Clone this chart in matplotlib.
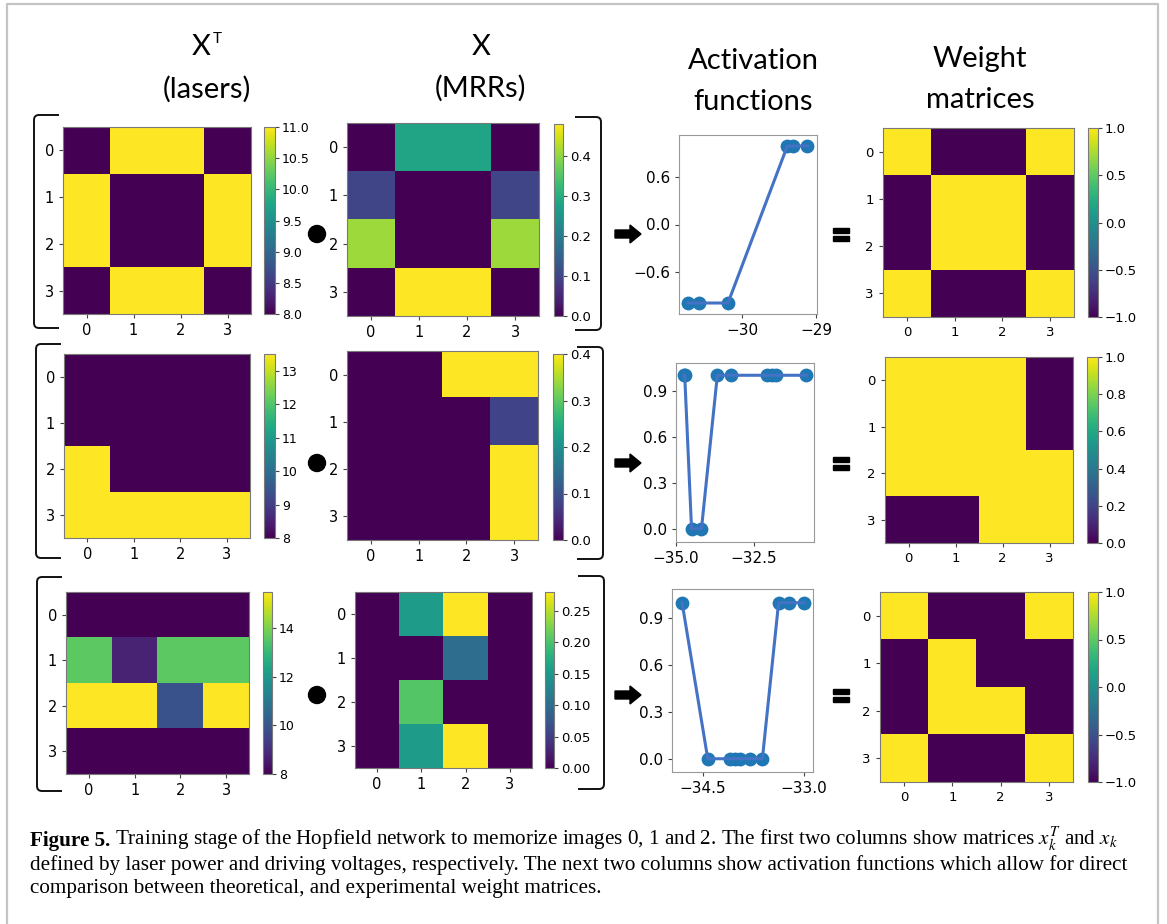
import matplotlib.pyplot as plt
from matplotlib.patches import Circle, Polygon, Rectangle, PathPatch
from matplotlib.path import Path

W, H = 1167, 924

# laser power matrices x_k^T
lasers_0 = [[8, 11, 11, 8], [11, 8, 8, 11], [11, 8, 8, 11], [8, 11, 11, 8]]
lasers_1 = [[8, 8, 8, 8], [8, 8, 8, 8], [13.5, 8, 8, 8], [13.5, 13.5, 13.5, 13.5]]
lasers_2 = [[8, 8, 8, 8], [13.6, 8.75, 13.6, 13.6], [15.5, 15.5, 9.9, 15.5], [8, 8, 8, 8]]

# MRR driving voltages x_k
mrr_0 = [[0, 0.28, 0.28, 0], [0.1, 0, 0, 0.1], [0.41, 0, 0, 0.41], [0, 0.48, 0.48, 0]]
mrr_1 = [[0, 0, 0.4, 0.4], [0, 0, 0, 0.08], [0, 0, 0, 0.4], [0, 0, 0, 0.4]]
mrr_2 = [[0, 0.155, 0.28, 0], [0, 0, 0.1, 0], [0, 0.205, 0, 0], [0, 0.155, 0.28, 0]]

# activation functions
act_x_0 = [-30.73, -30.58, -30.19, -29.39, -29.31, -29.12]
act_y_0 = [-1, -1, -1, 1, 1, 1]
act_x_1 = [-34.74, -34.72, -34.50, -34.18, -33.67, -33.22, -32.06, -31.90, -31.77, -30.81]
act_y_1 = [1, 1, 0, 0, 1, 1, 1, 1, 1, 1]
act_x_2 = [-34.81, -34.43, -34.10, -34.02, -33.95, -33.80, -33.62, -33.38, -33.22, -33.01]
act_y_2 = [1, 0, 0, 0, 0, 0, 0, 1, 1, 1]

# weight matrices
weights_0 = [[1, -1, -1, 1], [-1, 1, 1, -1], [-1, 1, 1, -1], [1, -1, -1, 1]]
weights_1 = [[1, 1, 1, 0], [1, 1, 1, 0], [1, 1, 1, 1], [0, 0, 1, 1]]
weights_2 = [[1, -1, -1, 1], [-1, 1, -1, -1], [-1, 1, 1, -1], [1, -1, -1, 1]]

lasers_ticks = [[8.0, 8.5, 9.0, 9.5, 10.0, 10.5, 11.0], [8, 9, 10, 11, 12, 13], [8, 10, 12, 14]]
mrr_ticks = [[0.0, 0.1, 0.2, 0.3, 0.4], [0.0, 0.1, 0.2, 0.3, 0.4],
             [0.0, 0.05, 0.10, 0.15, 0.20, 0.25]]
weight_ticks = [[-1.0, -0.5, 0.0, 0.5, 1.0], [0.0, 0.2, 0.4, 0.6, 0.8, 1.0],
                [-1.0, -0.5, 0.0, 0.5, 1.0]]
act_xticks = [[-30, -29], [-35.0, -32.5], [-34.5, -33.0]]
act_yticks = [[-0.6, 0.0, 0.6], [0.0, 0.3, 0.6, 0.9], [0.0, 0.3, 0.6, 0.9]]
act_xlim = [(-30.85, -28.99), (-35.0, -30.56), (-34.96, -32.87)]
act_ylim = [(-1.14, 1.14), (-0.087, 1.08), (-0.085, 1.088)]

caption_lines = [
    'Training stage of the Hopfield network to memorize images 0, 1 and 2. '
    'The first two columns show matrices $x_k^T$ and $x_k$',
    'defined by laser power and driving voltages, respectively. The next two columns '
    'show activation functions which allow for direct',
    'comparison between theoretical, and experimental weight matrices.',
]

# panel boxes in pixels: (left, top, right, bottom)
lasers_box = [(63, 127, 251, 314), (64, 354, 250, 538), (66, 592, 249, 774)]
lasers_cbox = [(264, 127, 275, 314), (264, 354, 275, 538), (263, 592, 272, 774)]
mrr_box = [(347, 123, 539, 316), (347, 351, 538, 540), (355, 592, 532, 768)]
mrr_cbox = [(554, 124, 563, 316), (553, 354, 563, 540), (545, 592, 554, 768)]
act_box = [(679, 135, 817, 314), (676, 363, 814, 542), (672, 589, 813, 772)]
weight_box = [(883, 128, 1074, 317), (885, 357, 1073, 543), (880, 592, 1073, 782)]
weight_cbox = [(1088, 128, 1098, 317), (1087, 357, 1098, 543), (1088, 592, 1098, 782)]

EDGE = '#7a7a7a'


def box(b):
    x0, y0, x1, y1 = b
    return [x0 / W, 1 - y1 / H, (x1 - x0) / W, (y1 - y0) / H]


def heatmap(fig, b, cb_box, data, ticks, fs, cfs):
    ax = fig.add_axes(box(b))
    im = ax.imshow(data, cmap='viridis', aspect='auto')
    ax.set_xticks(range(4))
    ax.set_yticks(range(4))
    ax.tick_params(labelsize=fs, length=3, color='#444')
    for s in ax.spines.values():
        s.set_color(EDGE)
    cax = fig.add_axes(box(cb_box))
    cb = fig.colorbar(im, cax=cax, ticks=ticks)
    cb.ax.tick_params(labelsize=cfs, length=3, color='#444', pad=2)
    cb.outline.set_edgecolor(EDGE)
    return ax


def bracket(ov, x_v, x_arm, y0, y1, r=5):
    d = r if x_arm > x_v else -r
    verts = [(x_arm, y0), (x_v + d, y0), (x_v, y0), (x_v, y0 + r),
             (x_v, y1 - r), (x_v, y1), (x_v + d, y1), (x_arm, y1)]
    codes = [Path.MOVETO, Path.LINETO, Path.CURVE3, Path.CURVE3,
             Path.LINETO, Path.CURVE3, Path.CURVE3, Path.LINETO]
    ov.add_patch(PathPatch(Path(verts, codes), fill=False, lw=1.4, color='#111'))


fig = plt.figure(figsize=(W / 100, H / 100), dpi=100)

# overlay for frame, brackets and operators
ov = fig.add_axes([0, 0, 1, 1], zorder=-1)
ov.set_xlim(0, W)
ov.set_ylim(H, 0)
ov.axis('off')
ov.plot([7, 7, 1158, 1158], [H, 4, 4, H], color='#c4c4c4', lw=1.6)

lasers = [lasers_0, lasers_1, lasers_2]
mrrs = [mrr_0, mrr_1, mrr_2]
weights = [weights_0, weights_1, weights_2]
acts = [(act_x_0, act_y_0), (act_x_1, act_y_1), (act_x_2, act_y_2)]

brackets_left = [(34, 115, 328), (36, 344, 558), (37, 577, 791)]
brackets_right = [(601, 117, 330), (603, 347, 559), (604, 576, 789)]
row_mid = [234, 463, 695]

for i in range(3):
    heatmap(fig, lasers_box[i], lasers_cbox[i], lasers[i], lasers_ticks[i], 10.5, 9)
    heatmap(fig, mrr_box[i], mrr_cbox[i], mrrs[i], mrr_ticks[i], 10.5, 9.5)
    heatmap(fig, weight_box[i], weight_cbox[i], weights[i], weight_ticks[i], 9.5, 9.5)

    ax = fig.add_axes(box(act_box[i]))
    xs, ys = acts[i]
    ax.scatter(xs, ys, s=80, color='#1f77b4', zorder=2)
    ax.plot(xs, ys, color='#4472c4', lw=2.2, zorder=3)
    ax.set_xticks(act_xticks[i])
    ax.set_yticks(act_yticks[i])
    ax.set_xlim(*act_xlim[i])
    ax.set_ylim(*act_ylim[i])
    ax.tick_params(labelsize=11, length=3, color='#444')
    for s in ax.spines.values():
        s.set_color('#999999')

    xv, y0, y1 = brackets_left[i]
    bracket(ov, xv, xv + 25, y0, y1)
    xv, y0, y1 = brackets_right[i]
    bracket(ov, xv, xv - 26, y0, y1)

    ym = row_mid[i]
    ov.add_patch(Circle((317, ym), 8.5, color='black'))
    ov.add_patch(Polygon([(615, ym - 4), (630, ym - 4), (630, ym - 9), (641, ym),
                          (630, ym + 9), (630, ym + 4), (615, ym + 4)], color='black'))
    ov.add_patch(Rectangle((833, ym - 6), 16, 4.5, color='black'))
    ov.add_patch(Rectangle((833, ym + 2), 16, 4.5, color='black'))

# column headers
TF = dict(family='Lato', size=21, ha='center', va='baseline')
fig.text(201 / W, 1 - 55 / H, 'X', **TF)
fig.text(213 / W, 1 - 43 / H, 'T', family='Lato', size=11, ha='left', va='baseline')
fig.text(207 / W, 1 - 98 / H, '(lasers)', **TF)
fig.text(481 / W, 1 - 55 / H, 'X', **TF)
fig.text(481 / W, 1 - 97 / H, '(MRRs)', **TF)
fig.text(753 / W, 1 - 69 / H, 'Activation', **TF)
fig.text(753 / W, 1 - 110 / H, 'functions', **TF)
fig.text(980 / W, 1 - 67 / H, 'Weight', **TF)
fig.text(980 / W, 1 - 108 / H, 'matrices', **TF)

# caption
CF = dict(family='Liberation Serif', size=15.2, va='baseline', math_fontfamily='stix')
renderer = fig.canvas.get_renderer()
t1 = fig.text(30 / W, 1 - 846 / H, 'Figure 5.', weight='bold', **CF)
bb = t1.get_window_extent(renderer)
fig.text((bb.x1 + 5) / W, 1 - 846 / H, caption_lines[0], **CF)
fig.text(30 / W, 1 - 870 / H, caption_lines[1], **CF)
fig.text(30 / W, 1 - 893 / H, caption_lines[2], **CF)

fig.savefig('out.png', dpi=100)
